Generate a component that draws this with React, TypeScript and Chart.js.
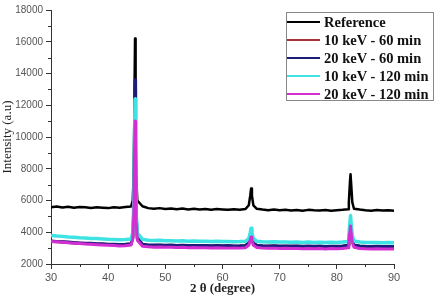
import React, { useEffect, useRef } from "react";
import { Chart, registerables } from "chart.js";

Chart.register(...registerables);

const twoTheta = [
  30, 31, 32, 33, 34, 35, 36, 37, 38, 39, 40, 41, 42, 43,
  44, 44.3, 44.5, 44.6, 44.7, 44.8, 44.9, 45.1,
  46, 47, 48, 49, 50, 51, 52, 53, 54, 55, 56, 57, 58, 59, 60, 61, 62, 63, 64,
  64.6, 64.85, 65, 65.15, 65.4,
  66, 67, 68, 69, 70, 71, 72, 73, 74, 75, 76, 77, 78, 79, 80, 81, 82,
  82.1, 82.3, 82.4, 82.5, 82.7,
  83, 84, 85, 86, 87, 88, 89, 90,
];

const reference = [
  5580, 5620, 5560, 5600, 5540, 5590, 5570, 5530, 5580, 5550, 5520, 5570, 5540, 5590,
  5620, 6000, 8000, 12500, 16200, 11000, 7500, 6000,
  5640, 5520, 5480, 5520, 5460, 5500, 5450, 5490, 5440, 5480, 5430, 5470, 5420, 5460, 5440, 5410, 5450, 5420, 5460,
  5700, 6300, 6750, 6300, 5700,
  5480, 5430, 5390, 5430, 5380, 5410, 5370, 5400, 5360, 5410, 5380, 5370, 5400, 5360, 5390, 5410, 5450,
  5900, 7200, 7650, 7100, 5900,
  5480, 5430, 5390, 5360, 5400, 5370, 5390, 5360,
];

const kev10min60 = [
  3420, 3400, 3380, 3350, 3330, 3310, 3290, 3280, 3260, 3250, 3230, 3220, 3210, 3220,
  3260, 3600, 5500, 9500, 13000, 8500, 5000, 3600,
  3230, 3180, 3170, 3180, 3160, 3170, 3150, 3160, 3140, 3150, 3140, 3150, 3130, 3140, 3130, 3140, 3120, 3130, 3150,
  3300, 3650, 3850, 3600, 3300,
  3160, 3130, 3120, 3130, 3110, 3120, 3110, 3120, 3100, 3110, 3100, 3110, 3090, 3100, 3100, 3120, 3160,
  3500, 4200, 4550, 4100, 3450,
  3180, 3120, 3100, 3090, 3100, 3080, 3090, 3080,
];

const kev20min60 = [
  3450, 3420, 3400, 3380, 3350, 3330, 3310, 3300, 3280, 3270, 3250, 3240, 3230, 3240,
  3280, 3650, 5800, 10500, 13600, 9000, 5200, 3650,
  3250, 3200, 3190, 3200, 3180, 3190, 3170, 3180, 3160, 3170, 3160, 3170, 3150, 3160, 3150, 3160, 3140, 3150, 3170,
  3320, 3700, 3900, 3650, 3320,
  3180, 3150, 3140, 3150, 3130, 3140, 3130, 3140, 3120, 3130, 3120, 3130, 3110, 3120, 3120, 3140, 3180,
  3520, 4250, 4600, 4150, 3480,
  3200, 3140, 3120, 3110, 3120, 3100, 3110, 3100,
];

const kev10min120 = [
  3800, 3760, 3740, 3700, 3690, 3650, 3640, 3610, 3600, 3580, 3560, 3550, 3530, 3540,
  3580, 3950, 6000, 9500, 12400, 8500, 5200, 3950,
  3560, 3500, 3480, 3490, 3460, 3470, 3450, 3460, 3440, 3450, 3430, 3440, 3420, 3430, 3410, 3420, 3400, 3410, 3430,
  3600, 3980, 4250, 3950, 3600,
  3440, 3400, 3390, 3400, 3380, 3390, 3370, 3380, 3360, 3380, 3360, 3370, 3350, 3370, 3360, 3380, 3420,
  3850, 4650, 5050, 4550, 3800,
  3450, 3380, 3360, 3350, 3360, 3340, 3350, 3340,
];

const kev20min120 = [
  3420, 3400, 3370, 3340, 3310, 3290, 3260, 3240, 3220, 3200, 3180, 3160, 3140, 3150,
  3190, 3550, 5200, 8500, 11000, 7800, 4700, 3500,
  3120, 3080, 3060, 3070, 3050, 3060, 3040, 3050, 3030, 3040, 3020, 3030, 3010, 3020, 3010, 3000, 3010, 3000, 3020,
  3180, 3500, 3700, 3450, 3180,
  3040, 3000, 2990, 3000, 2980, 2990, 2970, 2980, 2960, 2980, 2960, 2970, 2950, 2970, 2960, 2980, 3020,
  3400, 4050, 4400, 3950, 3350,
  3060, 2980, 2960, 2950, 2960, 2940, 2950, 2940,
];

const seriesLabels = ["Reference", "10 keV - 60 min", "20 keV - 60 min", "10 keV - 120 min", "20 keV - 120 min"];
const seriesColors = ["#000000", "#a8323c", "#1c1c7a", "#3fe3e3", "#d22ed2"];
const seriesValues = [reference, kev10min60, kev20min60, kev10min120, kev20min120];
const seriesOrder = [5, 4, 3, 2, 1];
const seriesWidths = [2.5, 3, 3, 3.5, 3];

const xMinorTicks = [35, 45, 55, 65, 75, 85];
const yMinorTicks = [3000, 5000, 7000, 9000, 11000, 13000, 15000, 17000];

const minorTickPlugin = {
  id: "minorTicks",
  afterDraw(chart: any) {
    const { ctx } = chart;
    const x = chart.scales.x;
    const y = chart.scales.y;
    ctx.save();
    ctx.strokeStyle = "#333";
    ctx.lineWidth = 1;
    ctx.beginPath();
    for (const v of xMinorTicks) {
      const px = Math.round(x.getPixelForValue(v)) + 0.5;
      ctx.moveTo(px, y.bottom);
      ctx.lineTo(px, y.bottom + 3);
    }
    for (const v of yMinorTicks) {
      const py = Math.round(y.getPixelForValue(v)) + 0.5;
      ctx.moveTo(x.left - 3, py);
      ctx.lineTo(x.left, py);
    }
    ctx.stroke();
    ctx.restore();
  },
};

export default function App() {
  const canvasRef = useRef<HTMLCanvasElement | null>(null);

  useEffect(() => {
    if (!canvasRef.current) return;
    Chart.defaults.font.family = "'Liberation Sans', Arial, sans-serif";
    const chart = new Chart(canvasRef.current, {
      type: "line",
      data: {
        datasets: seriesLabels.map((label, i) => ({
          label,
          data: twoTheta.map((t, j) => ({ x: t, y: seriesValues[i][j] })),
          borderColor: seriesColors[i],
          backgroundColor: seriesColors[i],
          borderWidth: seriesWidths[i],
          borderJoinStyle: "round" as const,
          pointRadius: 0,
          tension: 0,
          order: seriesOrder[i],
        })),
      },
      options: {
        responsive: false,
        animation: false,
        layout: { padding: { top: 10, right: 42, left: 0, bottom: 0 } },
        plugins: { legend: { display: false }, tooltip: { enabled: false } },
        scales: {
          x: {
            type: "linear",
            min: 30,
            max: 90,
            afterFit(scale: any) {
              scale.height = 35;
            },
            ticks: {
              stepSize: 10,
              color: "#555",
              font: { size: 11 },
              padding: 2,
              maxRotation: 0,
              callback: (v: any) => String(v),
            },
            grid: { drawOnChartArea: false, drawTicks: true, tickLength: 5, color: "#333" },
            border: { display: true, color: "#333", width: 1 },
            title: {
              display: true,
              text: "2 θ (degree)",
              color: "#222",
              font: { family: "'Liberation Serif', 'Times New Roman', serif", size: 13, weight: "bold" },
              padding: { top: 0, bottom: 3 },
            },
          },
          y: {
            type: "linear",
            min: 2000,
            max: 18000,
            afterFit(scale: any) {
              scale.width = 51;
            },
            ticks: {
              stepSize: 2000,
              color: "#555",
              font: { size: 10 },
              padding: 3,
              callback: (v: any) => String(v),
            },
            grid: { drawOnChartArea: false, drawTicks: true, tickLength: 5, color: "#333" },
            border: { display: true, color: "#333", width: 1 },
            title: {
              display: true,
              text: "Intensity (a.u)",
              color: "#222",
              font: { family: "'Liberation Serif', 'Times New Roman', serif", size: 13 },
              padding: 0,
            },
          },
        },
      },
      plugins: [minorTickPlugin],
    });
    return () => chart.destroy();
  }, []);

  return (
    <div style={{ position: "absolute", left: 0, top: 0, width: 436, height: 299, background: "#fff" }}>
      <canvas ref={canvasRef} width={436} height={299} style={{ display: "block" }} />
      <div
        style={{
          position: "absolute",
          left: 286,
          top: 12,
          width: 148,
          height: 89,
          border: "1px solid #888",
          background: "#fff",
          boxSizing: "border-box",
        }}
      >
        {seriesLabels.map((label, i) => (
          <div key={label} style={{ display: "flex", alignItems: "center", height: 18 }}>
            <div style={{ width: 33, height: 2, background: seriesColors[i], marginLeft: 0, marginRight: 4 }} />
            <span
              style={{
                fontFamily: "'Liberation Serif', 'Times New Roman', serif",
                fontWeight: "bold",
                fontSize: 14.5,
                color: "#111",
                whiteSpace: "nowrap",
                lineHeight: "18px",
              }}
            >
              {label}
            </span>
          </div>
        ))}
      </div>
    </div>
  );
}
